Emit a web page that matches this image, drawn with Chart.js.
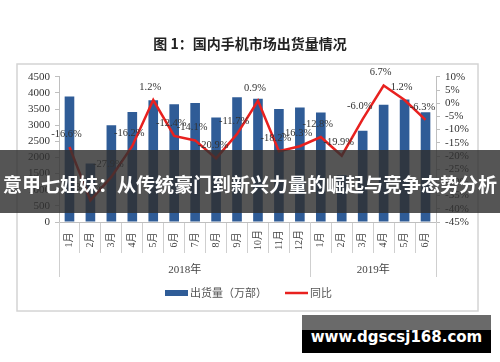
<!DOCTYPE html>
<html>
<head>
<meta charset="utf-8">
<script src="https://cdn.jsdelivr.net/npm/chart.js@4.4.1/dist/chart.umd.min.js"></script>
<style>
html, body { margin: 0; padding: 0; background: #fff; }
#wrap { position: relative; width: 500px; height: 362px; overflow: hidden; }
canvas { display: block; }
.banner {
    position: absolute; left: 0; top: 150px; width: 500px; height: 63px;
    box-sizing: border-box; padding-top: 22px;
    background: rgba(48, 48, 48, 0.82); color: #fff;
    font: bold 19px "Noto Sans CJK SC"; line-height: 24px;
    text-align: center; white-space: nowrap;
}
.site {
    position: absolute; left: 302px; top: 315px; width: 189px; height: 38px;
    box-sizing: border-box; padding-top: 14px;
    background: linear-gradient(#6a6a6a 0, #6a6a6a 15px, #000 15px);
    color: #fff; font: bold 15px "DejaVu Sans"; line-height: 16px;
    text-align: center; white-space: nowrap;
}
</style>
</head>
<body>
<div id="wrap">
    <canvas id="chart" width="500" height="362"></canvas>
    <div class="banner">意甲七姐妹：从传统豪门到新兴力量的崛起与竞争态势分析</div>
    <div class="site">www.dgscsj168.com</div>
</div>
<script>
const months = ['1月', '2月', '3月', '4月', '5月', '6月', '7月', '8月', '9月', '10月', '11月', '12月',
                '1月', '2月', '3月', '4月', '5月', '6月'];
const years = ['2018年', '2019年'];
const yearSpans = [12, 6];
const shipments = [3890, 1815, 3000, 3410, 3770, 3650, 3690, 3240, 3870, 3820, 3500, 3550,
                   3390, 1450, 2830, 3630, 3800, 3400];
const yoy = [-16.6, -36.8, -27.9, -16.2, 1.2, -12.4, -14.1, -20.9, -11.7, 0.9, -18.2, -16.3,
             -12.8, -19.9, -6.0, 6.7, 1.2, -6.3];

const blue = '#2f5c97';
const red = '#e8211f';
const axisGray = '#bfbfbf';
const serif = '"Liberation Serif", "Noto Sans CJK SC"';

const extras = {
    id: 'extras',
    afterDatasetsDraw(chart) {
        const ctx = chart.ctx;
        const meta = chart.getDatasetMeta(1);
        ctx.save();
        ctx.font = '10.5px ' + serif;
        ctx.fillStyle = '#333';
        ctx.textAlign = 'center';
        ctx.textBaseline = 'middle';
        meta.data.forEach((pt, i) => {
            ctx.fillText(yoy[i].toFixed(1) + '%', pt.x - 3, pt.y - 13);
        });
        ctx.restore();
    },
    afterDraw(chart) {
        const ctx = chart.ctx;
        const x = chart.scales.x;
        const area = chart.chartArea;
        const step = (area.right - area.left) / months.length;
        ctx.save();

        // frame
        ctx.strokeStyle = '#d4d4d4';
        ctx.lineWidth = 1.5;
        ctx.strokeRect(17, 64, 461, 247);

        // month labels, rotated and centred in their cells
        ctx.fillStyle = '#444';
        ctx.font = '10px ' + serif;
        ctx.textAlign = 'center';
        ctx.textBaseline = 'middle';
        months.forEach((m, i) => {
            ctx.save();
            ctx.translate(x.getPixelForValue(i), 240);
            ctx.rotate(-Math.PI / 2);
            ctx.fillText(m, 0, 0);
            ctx.restore();
        });

        // year groups
        ctx.strokeStyle = '#cfcfcf';
        ctx.lineWidth = 1;
        ctx.font = '11px ' + serif;
        let start = 0;
        [0].concat(yearSpans).forEach((span) => {
            start += span;
            const bx = Math.round(area.left + start * step) + 0.5;
            ctx.beginPath();
            ctx.moveTo(bx, area.bottom);
            ctx.lineTo(bx, 277);
            ctx.stroke();
        });
        start = 0;
        years.forEach((y, k) => {
            const cx = area.left + (start + yearSpans[k] / 2) * step;
            ctx.fillText(y, cx, 270);
            start += yearSpans[k];
        });

        // legend
        ctx.fillStyle = blue;
        ctx.fillRect(165, 290, 23, 6);
        ctx.strokeStyle = red;
        ctx.lineWidth = 2.5;
        ctx.beginPath();
        ctx.moveTo(285, 293);
        ctx.lineTo(308, 293);
        ctx.stroke();
        ctx.fillStyle = '#555';
        ctx.font = '11px "Noto Sans CJK SC"';
        ctx.textAlign = 'left';
        ctx.fillText(chart.data.datasets[0].label, 190, 293);
        ctx.fillText(chart.data.datasets[1].label, 310, 293);
        ctx.restore();
    }
};

new Chart(document.getElementById('chart'), {
    type: 'bar',
    data: {
        labels: months,
        datasets: [{
            label: '出货量（万部）',
            data: shipments,
            backgroundColor: blue,
            barPercentage: 0.46,
            categoryPercentage: 1,
            yAxisID: 'y',
            order: 2
        }, {
            type: 'line',
            label: '同比',
            data: yoy,
            borderColor: red,
            borderWidth: 2.5,
            pointRadius: 0,
            tension: 0,
            yAxisID: 'y1',
            order: 1
        }]
    },
    options: {
        responsive: false,
        animation: false,
        layout: { padding: 0 },
        plugins: {
            legend: { display: false },
            tooltip: { enabled: false },
            title: {
                display: true,
                text: '图 1：国内手机市场出货量情况',
                color: '#222',
                font: { family: 'Noto Sans CJK SC', size: 14, weight: 'bold' },
                padding: { top: 35, bottom: 25 }
            }
        },
        scales: {
            x: {
                offset: true,
                ticks: { display: false },
                grid: { offset: true, drawOnChartArea: false, tickLength: 31, color: '#cfcfcf' },
                border: { color: axisGray },
                afterFit(s) { s.height = 140; }
            },
            y: {
                position: 'left',
                min: 0,
                max: 4500,
                ticks: { stepSize: 500, autoSkip: false, color: '#333', padding: 5,
                         font: { family: serif, size: 11 }, callback: v => String(v) },
                grid: { drawOnChartArea: false, tickLength: 4, color: axisGray },
                border: { color: axisGray },
                afterFit(s) { s.width = 59; }
            },
            y1: {
                position: 'right',
                min: -45,
                max: 10,
                ticks: { stepSize: 5, autoSkip: false, color: '#333', padding: 5,
                         font: { family: serif, size: 11 }, callback: v => v + '%' },
                grid: { drawOnChartArea: false, tickLength: 4, color: axisGray },
                border: { color: axisGray },
                afterFit(s) { s.width = 64; }
            }
        }
    },
    plugins: [extras]
});
</script>
</body>
</html>
